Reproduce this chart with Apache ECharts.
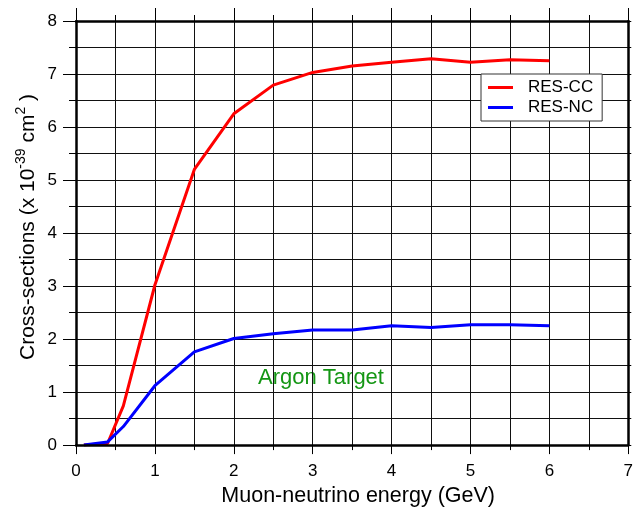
<!DOCTYPE html>
<html>
<head>
<meta charset="utf-8">
<script src="https://cdn.jsdelivr.net/npm/echarts@6/dist/echarts.min.js"></script>
<style>
html,body{margin:0;padding:0;background:#fff;}
#chart{width:636px;height:512px;}
</style>
</head>
<body>
<div id="chart"></div>
<script>
// Data
const energies = [0.1, 0.4, 0.6, 1, 1.5, 2, 2.5, 3, 3.5, 4, 4.5, 5, 5.5, 6];
const resCC = [0, 0.03, 0.74, 3.02, 5.2, 6.25, 6.79, 7.03, 7.15, 7.22, 7.29, 7.22, 7.27, 7.25];
const resNC = [0, 0.06, 0.35, 1.12, 1.76, 2.01, 2.1, 2.17, 2.17, 2.25, 2.22, 2.27, 2.27, 2.25];
const seriesNames = ['RES-CC', 'RES-NC'];
const xTitle = 'Muon-neutrino energy (GeV)';
const annotation = 'Argon Target';

const FONT = 'Liberation Sans, Arial, sans-serif';
const chart = echarts.init(document.getElementById('chart'), null, {renderer: 'canvas'});

const pairs = (ys) => energies.map((x, i) => [x, ys[i]]);

function axisCommon(tickLen, minorLen) {
  return {
    axisLine: {show: true, onZero: false, lineStyle: {color: '#000', width: 2.5}},
    axisTick: {show: true, inside: false, length: tickLen, lineStyle: {color: '#000', width: 1}},
    minorTick: {show: true, splitNumber: 2, length: minorLen, lineStyle: {color: '#000', width: 1}}
  };
}
// hidden axis used only to draw the full 0.5-step grid
function gridAxis(max, pos) {
  return {
    type: 'value', min: 0, max: max, interval: 0.5, position: pos,
    axisLine: {show: false}, axisTick: {show: false}, axisLabel: {show: false},
    splitLine: {show: true, lineStyle: {color: '#111', width: 1}}
  };
}

const option = {
  animation: false,
  backgroundColor: '#fff',
  grid: {left: 76, right: 5, top: 21, bottom: 66, containLabel: false},
  legend: {
    data: seriesNames,
    left: 481, top: 74,
    orient: 'vertical',
    backgroundColor: '#fff',
    borderColor: '#333', borderWidth: 1, borderRadius: 0,
    padding: [5, 9, 5, 7],
    itemGap: 3,
    itemWidth: 25, itemHeight: 3,
    icon: 'rect',
    textStyle: {fontFamily: FONT, fontSize: 17, color: '#000', lineHeight: 17, padding: [0, 0, 0, 10]}
  },
  xAxis: [
    Object.assign({
      type: 'value', min: 0, max: 7, interval: 1, position: 'bottom',
      name: xTitle, nameLocation: 'middle', nameGap: 37,
      nameTextStyle: {fontFamily: FONT, fontSize: 21.5, color: '#000', padding: [0, 0, 0, 12]},
      axisLabel: {fontFamily: FONT, fontSize: 17, color: '#000', margin: 18},
      splitLine: {show: false}, z: 5
    }, axisCommon(9, 5)),
    Object.assign({
      type: 'value', min: 0, max: 7, interval: 1, position: 'top',
      axisLabel: {show: false}, splitLine: {show: false}, z: 5
    }, axisCommon(13, 6)),
    gridAxis(7, 'bottom')
  ],
  yAxis: [
    Object.assign({
      type: 'value', min: 0, max: 8, interval: 1, position: 'left',
      axisLabel: {fontFamily: FONT, fontSize: 17, color: '#000', margin: 19},
      splitLine: {show: false}, z: 5
    }, axisCommon(13, 7)),
    Object.assign({
      type: 'value', min: 0, max: 8, interval: 1, position: 'right',
      axisLabel: {show: false}, splitLine: {show: false}, z: 5
    }, axisCommon(3, 3)),
    gridAxis(8, 'left')
  ],
  graphic: [
    {
      type: 'text', x: 28, y: 227, rotation: Math.PI / 2,
      style: {
        text: '{m|Cross-sections (x 10}{s|-39}{m| cm}{s|2}{m| )}',
        align: 'center', verticalAlign: 'middle',
        rich: {
          m: {fontFamily: FONT, fontSize: 21, fill: '#000', lineHeight: 27},
          s: {fontFamily: FONT, fontSize: 14, fill: '#000', lineHeight: 15, verticalAlign: 'top'}
        }
      }
    },
    {
      type: 'text', x: 258, y: 378,
      style: {text: annotation, fontFamily: FONT, fontSize: 22, fill: '#149614', align: 'left', verticalAlign: 'middle'}
    }
  ],
  series: [
    {name: seriesNames[0], type: 'line', data: pairs(resCC), showSymbol: false,
     color: '#ff0000', lineStyle: {color: '#ff0000', width: 3}, z: 3},
    {name: seriesNames[1], type: 'line', data: pairs(resNC), showSymbol: false,
     color: '#0000ff', lineStyle: {color: '#0000ff', width: 3}, z: 4}
  ]
};
chart.setOption(option);
</script>
</body>
</html>
